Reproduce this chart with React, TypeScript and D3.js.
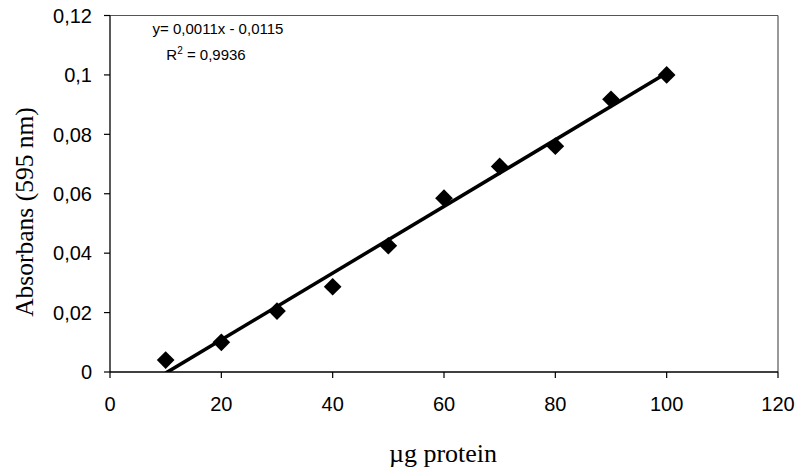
import React from "react";
import * as d3 from "d3";

const xValues = [10, 20, 30, 40, 50, 60, 70, 80, 90, 100];
const yValues = [0.004, 0.01, 0.0205, 0.0287, 0.0425, 0.0585, 0.0692, 0.0760, 0.0918, 0.1];
const xTicks = [0, 20, 40, 60, 80, 100, 120];
const yTicks = [0, 0.02, 0.04, 0.06, 0.08, 0.1, 0.12];
const equationText = "y= 0,0011x - 0,0115";
const r2Value = "= 0,9936";
const xLabel = "µg protein";
const yLabel = "Absorbans (595 nm)";

const W = 802;
const H = 473;
const L = 110, R = 778, T = 15.5, B = 372;

const fmt = (v: number) => String(+v.toFixed(2)).replace(".", ",");

export default function App() {
  const x = d3.scaleLinear().domain([0, 120]).range([L, R]);
  const y = d3.scaleLinear().domain([0, 0.12]).range([B, T]);

  const mx = d3.mean(xValues)!;
  const my = d3.mean(yValues)!;
  let sxy = 0, sxx = 0;
  xValues.forEach((xv, i) => {
    sxy += (xv - mx) * (yValues[i] - my);
    sxx += (xv - mx) * (xv - mx);
  });
  const slope = sxy / sxx;
  const intercept = my - slope * mx;
  const x0 = d3.min(xValues)!;
  const x1 = d3.max(xValues)!;
  const line = d3.line<number>().x((d) => x(d)).y((d) => y(slope * d + intercept));
  const diamond = d3.symbol().type(d3.symbolDiamond2 ?? d3.symbolDiamond).size(200)();

  return (
    <svg width={W} height={H} style={{ position: "absolute", left: 0, top: 0, background: "#fff" }}>
      <defs>
        <clipPath id="plot">
          <rect x={L} y={T} width={R - L} height={B - T} />
        </clipPath>
      </defs>
      <rect width={W} height={H} fill="#fff" />
      {/* frame */}
      <line x1={L} x2={R} y1={T} y2={T} stroke="#555" strokeWidth={1.2} />
      <line x1={R} x2={R} y1={T} y2={B} stroke="#555" strokeWidth={1.2} />
      <line x1={L} x2={L} y1={T} y2={B} stroke="#000" strokeWidth={1.3} />
      <line x1={L} x2={R} y1={B} y2={B} stroke="#000" strokeWidth={1.3} />
      {/* y ticks */}
      {yTicks.map((t) => (
        <g key={"y" + t}>
          <line x1={L - 6} x2={L} y1={y(t)} y2={y(t)} stroke="#000" strokeWidth={1.2} />
          <text x={L - 18} y={y(t)} dy="0.36em" textAnchor="end" fontFamily="Liberation Sans, Arial, sans-serif" fontSize={20} fill="#000">
            {fmt(t)}
          </text>
        </g>
      ))}
      {/* x ticks */}
      {xTicks.map((t) => (
        <g key={"x" + t}>
          <line x1={x(t)} x2={x(t)} y1={B} y2={B + 6} stroke="#000" strokeWidth={1.2} />
          <text x={x(t)} y={B + 39} textAnchor="middle" fontFamily="Liberation Sans, Arial, sans-serif" fontSize={20} fill="#000">
            {fmt(t)}
          </text>
        </g>
      ))}
      {/* trendline */}
      <path d={line([x0, x1]) ?? ""} stroke="#000" strokeWidth={3.5} fill="none" clipPath="url(#plot)" />
      {/* points */}
      {xValues.map((xv, i) => (
        <path key={i} d={diamond ?? ""} transform={`translate(${x(xv)},${y(yValues[i])})`} fill="#000" />
      ))}
      {/* equation */}
      <text x={218} y={34} textAnchor="middle" fontFamily="Liberation Sans, Arial, sans-serif" fontSize={15} fill="#000">
        {equationText}
      </text>
      <text x={206} y={60} textAnchor="middle" fontFamily="Liberation Sans, Arial, sans-serif" fontSize={15} fill="#000">
        R<tspan dy={-6} fontSize={10}>2</tspan><tspan dy={6}> {r2Value}</tspan>
      </text>
      {/* axis labels */}
      <text x={443} y={462} textAnchor="middle" fontFamily="Liberation Serif, Times New Roman, serif" fontSize={26} fill="#000">
        {xLabel}
      </text>
      <text transform={`translate(33,${212}) rotate(-90)`} textAnchor="middle" fontFamily="Liberation Serif, Times New Roman, serif" fontSize={25.5} fill="#000">
        {yLabel}
      </text>
    </svg>
  );
}
